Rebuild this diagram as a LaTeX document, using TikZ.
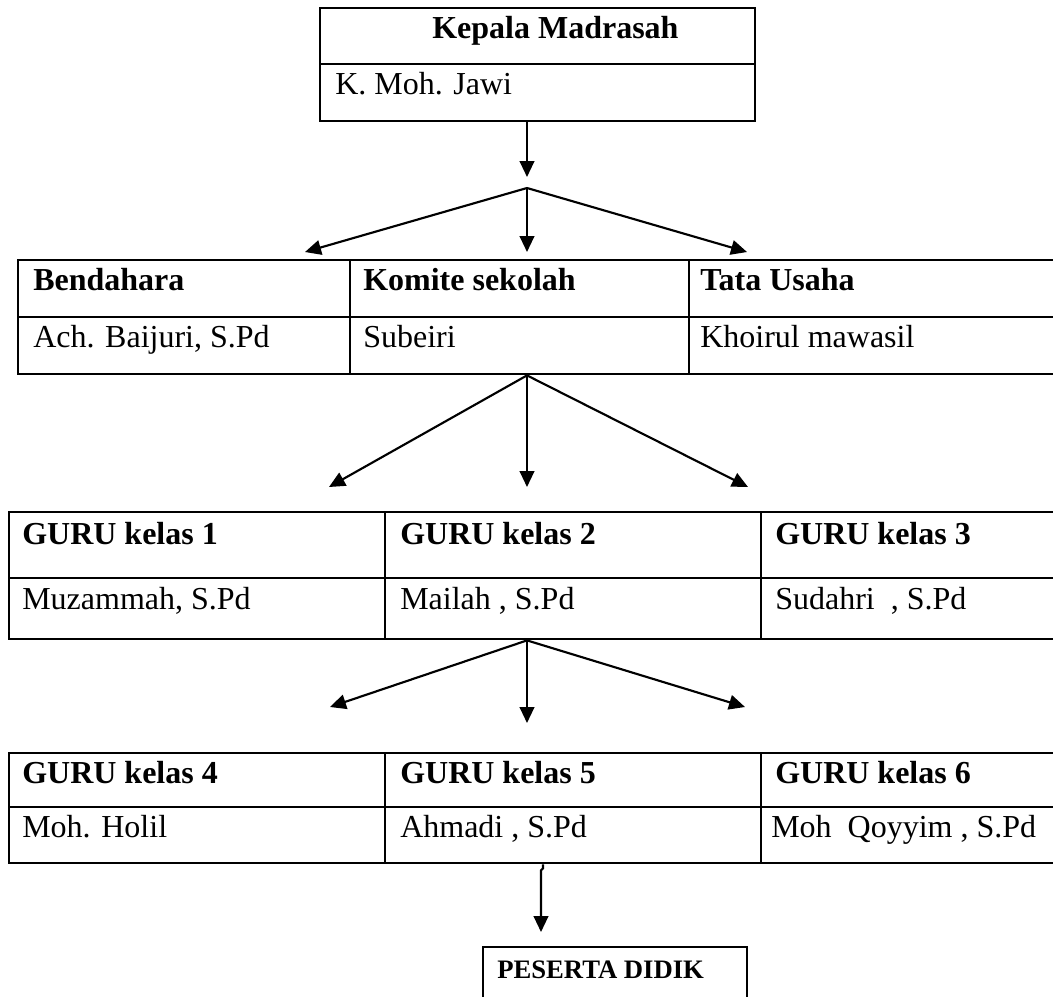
\documentclass[tikz,border=0pt]{standalone}
\usepackage{fontspec}
\setmainfont{Liberation Serif}
\usetikzlibrary{arrows.meta,calc}
\begin{document}
\begin{tikzpicture}[x=0.75pt,y=-0.75pt,
  cell/.style={draw, line width=1.8pt, rectangle, inner sep=0pt, anchor=north west},
  txt/.style={anchor=base west, inner sep=0pt, font=\fontsize{24}{28}\selectfont},
  hd/.style={anchor=base west, inner sep=0pt, font=\fontsize{24}{28}\selectfont\bfseries},
  arr/.style={line width=1.6pt, -{Triangle[length=12pt,width=11pt]}},
]
\useasboundingbox (0,0) rectangle (1053,996);
\clip (0,0) rectangle (1053,996);

% Kepala Madrasah
\node[cell, minimum width=435*0.75pt, minimum height=56*0.75pt] (kepH) at (319,7) {};
\node[cell, minimum width=435*0.75pt, minimum height=57*0.75pt] (kepN) at (319,63) {};
\node[hd] (tkepH) at (432,38) {Kepala Madrasah};
\node[txt] (tkepN) at ($(kepN.north west)+(16,31)$) {K. Moh. Jawi};

% Row 1
\node[cell, minimum width=332*0.75pt, minimum height=57*0.75pt] (bendH) at (17,259) {};
\node[cell, minimum width=332*0.75pt, minimum height=57*0.75pt] (bendN) at (17,316) {};
\node[cell, minimum width=339*0.75pt, minimum height=57*0.75pt] (komH) at (349,259) {};
\node[cell, minimum width=339*0.75pt, minimum height=57*0.75pt] (komN) at (349,316) {};
\node[cell, minimum width=380*0.75pt, minimum height=57*0.75pt] (tataH) at (688,259) {};
\node[cell, minimum width=380*0.75pt, minimum height=57*0.75pt] (tataN) at (688,316) {};
\node[hd] at ($(bendH.north west)+(16,31)$) {Bendahara};
\node[txt] at ($(bendN.north west)+(16,31)$) {Ach. Baijuri, S.Pd};
\node[hd] at ($(komH.north west)+(14,31)$) {Komite sekolah};
\node[txt] at ($(komN.north west)+(14,31)$) {Subeiri};
\node[hd] at ($(tataH.north west)+(12,31)$) {Tata Usaha};
\node[txt] at ($(tataN.north west)+(12,31)$) {Khoirul mawasil};

% Row 2
\node[cell, minimum width=376*0.75pt, minimum height=66*0.75pt] (g1H) at (8,511) {};
\node[cell, minimum width=376*0.75pt, minimum height=61*0.75pt] (g1N) at (8,577) {};
\node[cell, minimum width=376*0.75pt, minimum height=66*0.75pt] (g2H) at (384,511) {};
\node[cell, minimum width=376*0.75pt, minimum height=61*0.75pt] (g2N) at (384,577) {};
\node[cell, minimum width=310*0.75pt, minimum height=66*0.75pt] (g3H) at (760,511) {};
\node[cell, minimum width=310*0.75pt, minimum height=61*0.75pt] (g3N) at (760,577) {};
\node[hd] at ($(g1H.north west)+(14,33)$) {GURU kelas 1};
\node[txt] at ($(g1N.north west)+(14,32)$) {Muzammah, S.Pd};
\node[hd] at ($(g2H.north west)+(16,33)$) {GURU kelas 2};
\node[txt] at ($(g2N.north west)+(16,32)$) {Mailah , S.Pd};
\node[hd] at ($(g3H.north west)+(15,33)$) {GURU kelas 3};
\node[txt] at ($(g3N.north west)+(15,32)$) {Sudahri~ , S.Pd};

% Row 3
\node[cell, minimum width=376*0.75pt, minimum height=54*0.75pt] (g4H) at (8,752) {};
\node[cell, minimum width=376*0.75pt, minimum height=56*0.75pt] (g4N) at (8,806) {};
\node[cell, minimum width=376*0.75pt, minimum height=54*0.75pt] (g5H) at (384,752) {};
\node[cell, minimum width=376*0.75pt, minimum height=56*0.75pt] (g5N) at (384,806) {};
\node[cell, minimum width=310*0.75pt, minimum height=54*0.75pt] (g6H) at (760,752) {};
\node[cell, minimum width=310*0.75pt, minimum height=56*0.75pt] (g6N) at (760,806) {};
\node[hd] at ($(g4H.north west)+(14,31)$) {GURU kelas 4};
\node[txt] at ($(g4N.north west)+(14,31)$) {Moh. Holil};
\node[hd] at ($(g5H.north west)+(16,31)$) {GURU kelas 5};
\node[txt] at ($(g5N.north west)+(16,31)$) {Ahmadi , S.Pd};
\node[hd] at ($(g6H.north west)+(15,31)$) {GURU kelas 6};
\node[txt] at ($(g6N.north west)+(11,31)$) {Moh~ Qoyyim , S.Pd};

% Peserta didik
\node[cell, minimum width=264*0.75pt, minimum height=80*0.75pt] (pd) at (482,946) {};
\node[anchor=base west, inner sep=0pt, font=\fontsize{20}{24}\selectfont\bfseries] at ($(pd.north west)+(15,32)$) {PESERTA DIDIK};

% connectors
\coordinate (a0) at (527,188);
\coordinate (t0) at (527,177);
\coordinate (tA1) at (305,252);
\coordinate (tA2) at (527,252);
\coordinate (tA3) at (747,252);
\coordinate (tB1) at (329,487);
\coordinate (tB2) at (527,487);
\coordinate (tB3) at (748,487);
\coordinate (tC1) at (330,707);
\coordinate (tC2) at (527,723);
\coordinate (tC3) at (745,707);
\coordinate (tD) at (541,932);

\draw[arr] (kepN.south -| a0) -- (t0);
\draw[arr] (a0) -- (tA1);
\draw[arr] (a0) -- (tA2);
\draw[arr] (a0) -- (tA3);
\coordinate (b0) at (komN.south -| a0);
\draw[arr] (b0) -- (tB1);
\draw[arr] (b0) -- (tB2);
\draw[arr] (b0) -- (tB3);
\coordinate (c0) at (g2N.south -| a0);
\draw[arr] (c0) -- (tC1);
\draw[arr] (c0) -- (tC2);
\draw[arr] (c0) -- (tC3);
\coordinate (d0) at (g5N.south -| 543,0);
\draw[arr] (d0) -- ++(0,4) -- ++(-2,2) -- (tD);
\end{tikzpicture}
\end{document}
